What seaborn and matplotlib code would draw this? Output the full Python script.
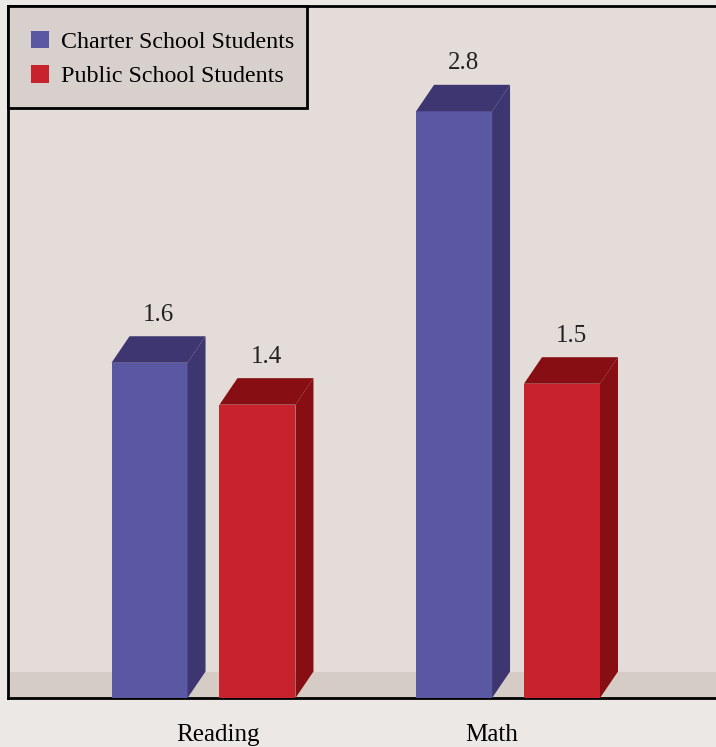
import matplotlib
matplotlib.use("Agg")
import matplotlib.pyplot as plt
from matplotlib.patches import Polygon, Patch, Rectangle
import pandas as pd
import seaborn as sns

# Average gains by subject
subjects = ["Reading", "Math"]
groups = ["Charter School Students", "Public School Students"]
charter_scores = [1.6, 2.8]
public_scores = [1.4, 1.5]

front_colors = ["#5b58a3", "#c8232c"]
shade_colors = ["#3d3670", "#870e12"]

df = pd.DataFrame({
    "subject": subjects * 2,
    "group": [groups[0]] * len(subjects) + [groups[1]] * len(subjects),
    "score": charter_scores + public_scores,
})

sns.set_style("white")
plt.rcParams["font.family"] = ["Liberation Serif", "DejaVu Serif"]
plt.rcParams["text.color"] = "black"

W, H, DPI = 716, 747, 100
fig = plt.figure(figsize=(W / DPI, H / DPI), dpi=DPI, facecolor="#ece8e5")
ax_left, ax_top, ax_bottom = 8, 5.5, 698
ax_w, ax_h = W - ax_left, ax_bottom - ax_top
ax = fig.add_axes([ax_left / W, (H - ax_bottom) / H, ax_w / W, ax_h / H])
ax.set_facecolor("#e3dcd9")

sns.barplot(data=df, x="subject", y="score", hue="group", hue_order=groups,
            palette=front_colors, saturation=1, width=0.709, gap=0.296,
            errorbar=None, ax=ax, zorder=3, legend=False)

ax.set_xlim(-0.642, 1.683)
ax.set_ylim(0, 3.305)

# depth of the pseudo-3D extrusion, in pixels, converted to data units
px_per_x = ax.transData.transform((1, 0))[0] - ax.transData.transform((0, 0))[0]
px_per_y = ax.transData.transform((0, 1))[1] - ax.transData.transform((0, 0))[1]
dx = 18 / px_per_x
dy = 26.5 / px_per_y

# floor strip
ax.axhspan(0, dy, color="#d5ccc6", zorder=1, lw=0)

n_sub = len(subjects)
for i, bar in enumerate(ax.patches[:2 * n_sub]):
    shade = shade_colors[i // n_sub]
    x0, w, h = bar.get_x(), bar.get_width(), bar.get_height()
    bar.set_edgecolor("none")
    top = Polygon([(x0, h), (x0 + dx, h + dy), (x0 + w + dx, h + dy), (x0 + w, h)],
                  closed=True, facecolor=shade, edgecolor="none", zorder=3)
    side = Polygon([(x0 + w, 0), (x0 + w, h), (x0 + w + dx, h + dy), (x0 + w + dx, dy)],
                   closed=True, facecolor=shade, edgecolor="none", zorder=3)
    ax.add_patch(top)
    ax.add_patch(side)
    ax.text(x0 + w / 2 + dx / 2, h + dy + 15.5 / px_per_y, f"{h:.1f}",
            ha="center", va="baseline", fontsize=18, color="#222222", zorder=4)

ax.set_xticks([0.049, 0.947])
ax.set_xticklabels(subjects, fontsize=18, color="black")
ax.tick_params(axis="x", length=0, pad=19)
ax.set_yticks([])
ax.set_xlabel("")
ax.set_ylabel("")

for side_name in ["top", "left", "bottom"]:
    ax.spines[side_name].set_visible(True)
    ax.spines[side_name].set_color("black")
    ax.spines[side_name].set_linewidth(2.0)
ax.spines["right"].set_visible(False)

# legend box
box_right, box_bottom = 307, 108
ax.add_patch(Rectangle((0, 1 - (box_bottom - ax_top) / ax_h),
                       (box_right - ax_left) / ax_w, (box_bottom - ax_top) / ax_h,
                       transform=ax.transAxes, facecolor="#d8d0cc",
                       edgecolor="black", lw=2.0, zorder=9, clip_on=False))

handles = [Patch(facecolor=c, edgecolor="none") for c in front_colors]
leg = ax.legend(handles, groups, loc="upper left",
                bbox_to_anchor=((31 - ax_left) / ax_w, 1 - (30.5 - ax_top) / ax_h),
                borderaxespad=0, borderpad=0, fontsize=17.3, frameon=False,
                handlelength=0.75, handleheight=0.75, handletextpad=0.5,
                labelspacing=0.52)
leg.set_zorder(10)

fig.savefig("out.png", dpi=DPI, facecolor=fig.get_facecolor())
